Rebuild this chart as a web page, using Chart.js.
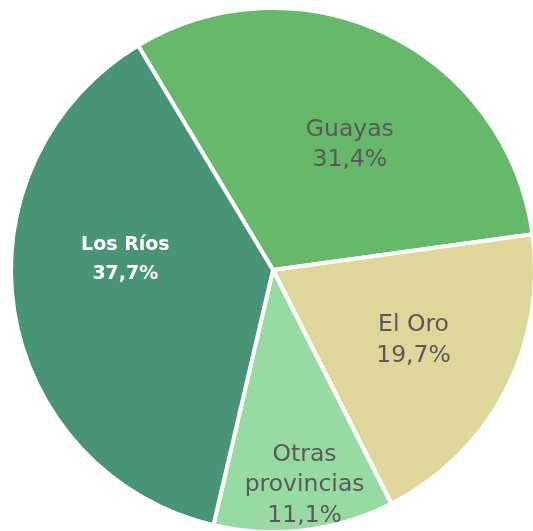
<!DOCTYPE html>
<html>
<head>
<meta charset="utf-8">
<script src="https://cdn.jsdelivr.net/npm/chart.js@4.4.0/dist/chart.umd.min.js"></script>
<style>
  html, body { margin: 0; padding: 0; background: #fff; overflow: hidden; width: 533px; height: 531px; }
  #wrap { position: absolute; left: 0; top: 0; width: 546px; height: 540px; }
</style>
</head>
<body>
<div id="wrap"><canvas id="chart-area"></canvas></div>
<script>
  'use strict';

  var labels = ['Guayas', 'El Oro', 'Otras provincias', 'Los Ríos'];
  var labelLines = [['Guayas'], ['El Oro'], ['Otras', 'provincias'], ['Los Ríos']];
  var shares = [31.4, 19.7, 11.1, 37.7];
  var pctText = ['31,4%', '19,7%', '11,1%', '37,7%'];
  var pie_colors = [
    '#66B86B', // Guayas (green)
    '#DED69A', // El Oro (sand)
    '#98DBA2', // Otras (light green)
    '#4A9476'  // Los Ríos (teal)
  ];

  // label placement: fraction of radius and angle nudge (degrees)
  var labelRadius = [0.56, 0.60, 0.83, 0.565];
  var labelNudge = [6, -1, -1.5, 13];

  var sliceLabels = {
    id: 'sliceLabels',
    afterDatasetsDraw: function (chart) {
      var ctx = chart.ctx;
      var meta = chart.getDatasetMeta(0);
      ctx.save();
      ctx.textAlign = 'center';
      ctx.textBaseline = 'middle';
      meta.data.forEach(function (arc, i) {
        var p = arc.getProps(['x', 'y', 'startAngle', 'endAngle', 'outerRadius'], true);
        var a = (p.startAngle + p.endAngle) / 2 + labelNudge[i] * Math.PI / 180;
        var r = p.outerRadius * labelRadius[i];
        var cx = p.x + Math.cos(a) * r;
        var cy = p.y + Math.sin(a) * r;
        var lines = labelLines[i].concat([pctText[i]]);
        var bold = i === 3;
        ctx.font = (bold ? 'bold 19px' : '23.5px') + ' "DejaVu Sans", sans-serif';
        ctx.fillStyle = bold ? '#ffffff' : '#595959';
        var lh = bold ? 29 : 30.5;
        var y0 = cy - (lines.length - 1) * lh / 2;
        lines.forEach(function (t, k) {
          ctx.fillText(t, cx, y0 + k * lh);
        });
      });
      ctx.restore();
    }
  };

  var config = {
    type: 'pie',
    data: {
      labels: labels,
      datasets: [{
        data: shares,
        backgroundColor: pie_colors,
        borderColor: '#ffffff',
        borderWidth: 4,
        hoverOffset: 0,
        offset: 0
      }]
    },
    options: {
      responsive: true,
      maintainAspectRatio: false,
      animation: false,
      events: [],
      rotation: -31,
      radius: 262,
      layout: { padding: 0 },
      plugins: {
        legend: { display: false },
        tooltip: { enabled: false }
      }
    },
    plugins: [sliceLabels]
  };

  var ctx = document.getElementById('chart-area').getContext('2d');
  window.myPie = new Chart(ctx, config);
</script>
</body>
</html>
